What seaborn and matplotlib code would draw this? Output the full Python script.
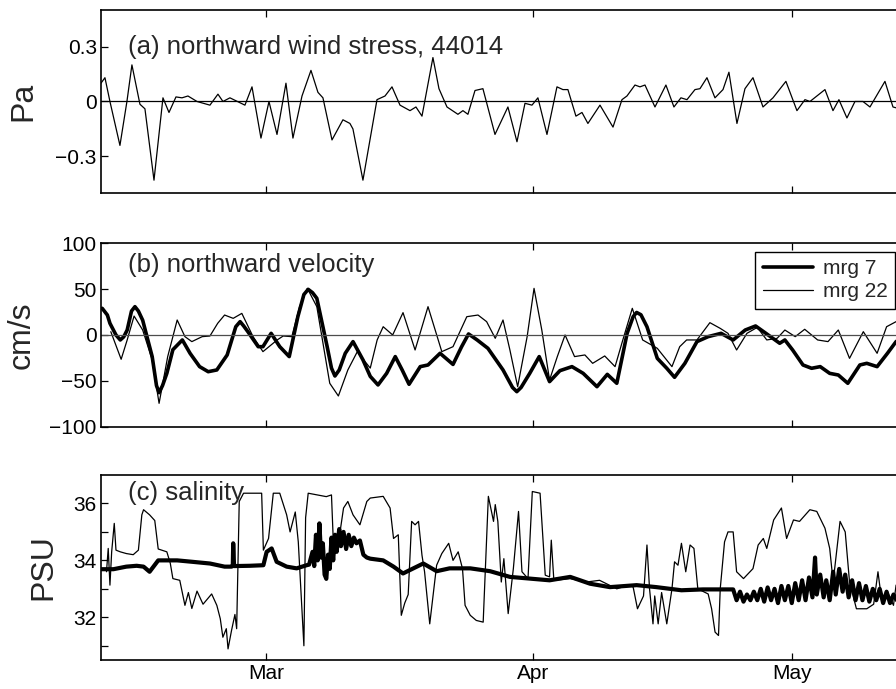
import matplotlib
matplotlib.use("Agg")
import matplotlib.pyplot as plt
import seaborn as sns
import pandas as pd

# time axis: days relative to 1 March
month_ticks = [0, 31, 61]
month_labels = ["Mar", "Apr", "May"]

# (a) northward wind stress, buoy 44014 (Pa)
wind_day = [-19.14, -18.68, -18.10, -16.94, -16.13, -15.55, -14.62, -14.04, -12.99, -11.95,
            -11.25, -10.44, -9.74, -9.05, -8.00, -6.50, -5.57, -4.99, -4.18, -2.44,
            -1.62, -0.58, 0.35, 1.28, 2.32, 3.13, 4.18, 5.22, 6.03, 6.61,
            7.66, 8.93, 9.74, 10.09, 11.25, 12.88, 13.81, 14.62, 15.55, 16.71,
            17.40, 18.10, 19.37, 20.07, 21.00, 22.27, 22.85, 23.43, 24.25, 25.17,
            26.57, 28.07, 29.12, 30.05, 30.86, 31.55, 32.60, 33.76, 34.45, 35.03,
            35.96, 36.66, 37.35, 38.75, 40.26, 41.30, 41.88, 42.81, 43.39, 43.97,
            45.13, 46.40, 47.33, 48.14, 48.84, 49.77, 50.35, 51.16, 52.09, 53.02,
            53.71, 54.64, 55.57, 56.50, 57.66, 58.82, 60.32, 61.60, 62.53, 63.11,
            64.85, 65.78, 66.47, 67.40, 68.33, 69.26, 70.07, 71.81, 72.74, 73.55]
wind_tau = [0.10, 0.13, 0.0, -0.24, 0.0, 0.20, -0.015, -0.04, -0.43, 0.02,
            -0.06, 0.025, 0.02, 0.03, 0.0, -0.02, 0.04, 0.0, 0.02, -0.02,
            0.08, -0.20, 0.0, -0.18, 0.10, -0.20, 0.03, 0.17, 0.05, 0.02,
            -0.21, -0.10, -0.12, -0.15, -0.43, 0.01, 0.03, 0.08, -0.02, -0.05,
            -0.03, -0.08, 0.24, 0.07, -0.03, -0.07, -0.05, -0.07, 0.06, 0.07,
            -0.18, -0.03, -0.22, -0.01, -0.02, 0.02, -0.18, 0.08, 0.065, 0.065,
            -0.08, -0.06, -0.12, -0.02, -0.14, 0.01, 0.03, 0.09, 0.08, 0.09,
            -0.03, 0.09, -0.03, 0.02, 0.01, 0.065, 0.07, 0.13, 0.02, 0.065,
            0.16, -0.12, 0.07, 0.13, -0.03, 0.02, 0.11, -0.05, 0.01, 0.0,
            0.065, -0.05, 0.01, -0.09, 0.0, 0.0, -0.03, 0.11, -0.03, -0.04]

# (b) northward velocity (cm/s)
v7_day = [-19.0, -18.4, -18.1, -17.4, -16.9, -16.5, -16.1, -15.6, -15.2, -14.8,
          -14.3, -13.2, -12.7, -12.4, -12.0, -11.5, -10.8, -9.7, -8.8, -7.7,
          -6.7, -5.7, -4.5, -3.5, -3.0, -2.6, -2.1, -0.9, -0.35, 0.6,
          1.6, 2.7, 3.7, 4.4, 4.9, 5.4, 5.9, 7.1, 7.6, 8.0,
          8.5, 9.2, 10.1, 11.25, 12.1, 13.0, 14.0, 15.0, 15.8, 16.6,
          17.9, 18.8, 20.2, 21.7, 22.7, 23.5, 24.5, 25.75, 27.5, 28.6,
          29.1, 29.6, 30.6, 31.7, 32.9, 34.1, 35.5, 36.8, 38.4, 39.6,
          40.7, 41.9, 42.6, 43.0, 43.5, 44.2, 45.4, 46.5, 47.4, 48.6,
          50.0, 51.3, 52.8, 54.2, 55.6, 56.8, 58.0, 59.6, 60.2, 61.1,
          62.3, 63.3, 64.3, 65.4, 66.4, 67.5, 68.9, 69.7, 70.9, 72.1,
          73.1, 74.0]
v7_cms = [29, 21.7, 12.7, 0, -5.4, -2, 5.4, 26, 30.8, 26,
          16, -23.5, -55, -62.7, -55, -41.7, -16, -5.4, -20, -34.4,
          -39.9, -38, -21.7, 9, 14.5, 10, 3.6, -12.7, -12.7, 1.8,
          -12.7, -23.5, 19.9, 44, 49.6, 46, 39.9, -12.7, -36, -44.6,
          -38, -19.9, -7.2, -27, -45, -54.3, -41.7, -23.5, -38, -53.6,
          -34.4, -32.6, -19.9, -32, -12.7, 1.1, -5.4, -14.5, -38, -57,
          -61.6, -57, -41.7, -23.5, -50.7, -38.8, -34.4, -41.7, -56.2, -42.8,
          -52.5, 1.8, 20, 24.5, 22, 9, -25.4, -36.2, -46, -30.8,
          -7.2, -1.8, 1.8, -5.4, 5.4, 9.8, 1.8, -9, -5.4, -16.3,
          -32.6, -36.2, -34.4, -41.7, -43.5, -52.5, -32.6, -30.8, -34.4, -19.9,
          -7.2, -2]

v22_day = [-18.0, -16.8, -16.1, -15.3, -14.3, -13.2, -12.4, -11.4, -10.3, -9.4,
           -8.6, -7.4, -6.5, -5.6, -4.8, -3.8, -2.8, -1.5, -0.35, 1.3,
           2.0, 3.0, 3.9, 4.8, 5.9, 7.4, 8.4, 9.5, 10.6, 11.5,
           12.1, 12.9, 13.6, 14.7, 15.9, 17.3, 18.8, 20.4, 21.7, 23.3,
           24.6, 25.6, 26.6, 27.5, 28.3, 29.2, 30.3, 31.1, 32.0, 32.9,
           33.8, 34.7, 35.8, 37.0, 37.9, 39.3, 40.5, 41.4, 42.5, 43.7,
           45.4, 47.1, 48.0, 48.8, 50.0, 51.5, 52.7, 53.6, 54.6, 55.8,
           57.0, 58.1, 59.3, 60.2, 61.4, 62.5, 64.0, 65.2, 66.4, 67.7,
           69.3, 70.9, 72.0, 73.1, 74.0]
v22_cms = [3.6, -26.4, -5.4, 20.6, 5.4, -27, -74.3, -23.5, 16.3, -1.8,
           -7.2, -1.8, -1.1, 12.7, 21.7, 18.1, 23.5, -1.8, -18.1, -5.4,
           -1.1, -1.8, 30.8, 50.7, 30.8, -52.5, -66.3, -38, -18.1, -29,
           -36, -5.4, 9, 0, 24.3, -16.3, 30.8, -18.1, -12.7, 19.9,
           21.7, 14.5, -3.6, 16.3, -16.3, -56.2, -1.8, 50.7, 5.4, -48.9,
           -23.5, 0, -23.5, -21.7, -30.8, -22.8, -34.4, -5.4, 29, -5.4,
           -14.5, -34.4, -12.7, -5.4, -5.4, 13.4, 7.2, 1.8, -16.3, 1.8,
           8.3, -5.4, -3.6, 5.4, -1.8, 6.2, -5.4, -7.2, 5.4, -25.4,
           3.6, -19.9, 9, 14.5, 15]

# (c) salinity (PSU), mrg 7 (thick) and mrg 22 (thin)
s7_day = [-19.2, -17.7, -16.2, -15.0, -14.2, -13.5, -12.5, -10.3, -8.55, -6.5,
          -4.8, -4.0, -3.85, -3.8, -3.7, -1.9, -0.3, 0.08, 0.66, 1.24,
          2.4, 3.56, 4.72, 5.0, 5.4, 5.6, 5.8, 6.0, 6.2, 6.4,
          6.6, 6.8, 7.0, 7.2, 7.4, 7.6, 7.8, 8.0, 8.2, 8.5,
          8.7, 9.0, 9.3, 9.6, 9.9, 10.2, 10.5, 10.9, 11.3, 11.7,
          12.1, 13.6, 14.8, 15.9, 17.1, 18.25, 19.8, 21.3, 23.7, 26.0,
          28.3, 30.6, 32.9, 35.3, 37.6, 39.9, 43.0, 45.3, 48.2, 50.7,
          54.2, 54.6, 55.0, 55.4, 55.8, 56.2, 56.6, 57.0, 57.4, 57.8,
          58.2, 58.6, 59.0, 59.4, 59.8, 60.2, 60.6, 61.0, 61.4, 61.8,
          62.2, 62.6, 63.0, 63.4, 63.7, 63.9, 64.3, 64.7, 65.0, 65.4,
          65.8, 66.1, 66.5, 66.9, 67.2, 67.6, 68.0, 68.4, 68.8, 69.2,
          69.6, 70.0, 70.4, 70.8, 71.2, 71.6, 72.0, 72.4, 72.8, 73.2, 74.0]
s7_psu = [33.69, 33.69, 33.78, 33.81, 33.78, 33.6, 34.0, 34.0, 33.95, 33.89,
          33.78, 33.78, 33.8, 34.6, 33.8, 33.81, 33.83, 34.3, 34.42, 33.95,
          33.78, 33.72, 33.83, 33.85, 34.3, 33.8, 34.9, 34.0, 35.3, 34.1,
          34.6, 33.5, 33.35, 34.2, 33.7, 34.8, 34.0, 34.9, 34.3, 35.1,
          34.5, 35.0, 34.4, 34.9, 34.5, 34.8, 34.6, 34.7, 34.2, 34.1,
          34.06, 34.0, 33.78, 33.54, 33.72, 33.89, 33.62, 33.72, 33.72, 33.62,
          33.42, 33.36, 33.3, 33.42, 33.18, 33.06, 33.13, 33.06, 32.95, 32.98,
          32.98, 32.6, 32.9, 32.55, 32.8, 32.6, 32.9, 32.6, 33.0, 32.55,
          33.05, 32.6, 33.0, 32.5, 33.1, 32.6, 33.1, 32.5, 33.2, 32.6,
          33.3, 32.6, 33.4, 32.7, 34.1, 32.8, 33.5, 32.7, 33.3, 32.6,
          33.6, 32.8, 33.7, 32.9, 33.5, 32.7, 33.3, 32.6, 33.2, 32.6,
          33.1, 32.55, 33.0, 32.6, 33.0, 32.5, 32.9, 32.5, 32.8, 32.6, 32.7]

s22_day = [-18.5, -18.3, -18.1, -17.9, -17.6, -17.4, -16.9, -16.2, -15.4, -14.8,
           -14.4, -14.2, -13.5, -12.9, -12.5, -11.5, -11.1, -10.8, -10.0, -9.4,
           -9.0, -8.6, -8.0, -7.3, -6.3, -5.7, -5.3, -5.0, -4.6, -4.4,
           -4.0, -3.6, -3.4, -3.1, -2.6, -0.5, -0.3, 0.3, 0.85, 1.6,
           2.4, 2.8, 3.4, 3.75, 4.1, 4.4, 4.6, 4.9, 7.0, 7.6,
           7.8, 8.4, 9.0, 9.5, 10.1, 10.9, 11.7, 12.1, 13.6, 14.4,
           14.8, 15.35, 15.7, 16.1, 16.5, 16.9, 17.3, 17.7, 18.1, 18.4,
           19.0, 19.8, 20.4, 21.2, 21.7, 22.3, 22.8, 23.1, 23.7, 24.4,
           25.2, 25.8, 26.4, 26.6, 26.9, 27.3, 27.6, 28.1, 28.7, 29.3,
           29.7, 30.4, 30.9, 31.8, 32.4, 32.9, 33.1, 33.4, 35.3, 37.2,
           38.7, 40.7, 42.2, 42.6, 43.1, 43.8, 44.2, 44.5, 44.9, 45.1,
           45.5, 45.9, 46.5, 47.1, 47.4, 47.8, 48.2, 48.7, 49.2, 49.65,
           50.1, 51.3, 51.7, 52.1, 52.5, 52.7, 53.2, 53.6, 54.2, 54.6,
           55.4, 56.5, 57.1, 57.7, 58.1, 58.9, 59.8, 60.4, 61.2, 61.9,
           63.1, 63.9, 64.85, 65.4, 65.8, 66.6, 67.2, 67.7, 68.5, 69.7,
           70.5, 71.0, 71.4, 72.2, 72.8, 73.1, 74.0]
s22_psu = [33.6, 34.42, 33.13, 34.3, 35.3, 34.36, 34.3, 34.24, 34.2, 34.36,
           35.6, 35.78, 35.6, 35.4, 34.4, 34.3, 33.9, 33.36, 33.3, 32.42,
           32.87, 32.31, 32.92, 32.46, 32.82, 32.42, 31.95, 31.3, 31.6, 30.89,
           31.53, 32.1, 31.6, 36.07, 36.36, 36.36, 34.36, 34.77, 36.36, 36.36,
           35.6, 35.0, 35.7, 34.65, 32.65, 31.0, 35.5, 36.36, 36.24, 36.3,
           34.77, 34.6, 35.84, 36.07, 35.6, 35.25, 36.07, 36.19, 36.25, 35.84,
           34.77, 34.9, 32.07, 32.5, 32.8, 35.37, 35.25, 35.37, 34.18, 33.6,
           31.77, 33.83, 34.24, 34.6, 34.0, 34.3, 33.71, 32.42, 32.07, 31.89,
           31.83, 36.25, 35.37, 35.96, 35.37, 33.24, 34.06, 32.13, 33.71, 35.72,
           33.6, 33.36, 36.42, 36.36, 33.48, 33.42, 34.71, 33.3, 33.36, 33.24,
           33.3, 33.0, 33.15, 33.06, 32.3, 32.75, 34.54, 33.0, 31.77, 32.75,
           31.77, 32.87, 31.77, 33.0, 33.95, 33.83, 34.6, 33.6, 34.54, 34.42,
           33.0, 32.82, 32.3, 31.48, 31.36, 33.0, 34.65, 35.0, 35.0, 33.6,
           33.36, 33.71, 34.54, 34.77, 34.42, 35.42, 35.84, 34.77, 35.42, 35.37,
           35.78, 35.72, 35.13, 34.42, 33.24, 35.37, 35.0, 33.24, 32.3, 32.3,
           32.46, 33.6, 32.66, 32.82, 32.42, 33.13, 33.2]

sns.set_style("ticks")
plt.rcParams["font.family"] = ["Liberation Sans", "DejaVu Sans"]

fig = plt.figure(figsize=(8.96, 6.89), dpi=100)
ax1 = fig.add_axes([0.1127, 0.7199, 0.897, 0.2656])
ax2 = fig.add_axes([0.1127, 0.3803, 0.897, 0.2670])
ax3 = fig.add_axes([0.1127, 0.0421, 0.897, 0.2685])

thin = 0.9
thick = 2.6
tick_fs = 15
panel_fs = 18.5
ylab_fs = 23

# panel a
sns.lineplot(x=wind_day, y=wind_tau, ax=ax1, color="k", linewidth=thin, estimator=None, sort=False)
ax1.axhline(0, color="k", linewidth=0.9)
ax1.set_ylim(-0.5, 0.5)
ax1.set_yticks([-0.3, 0, 0.3])
ax1.set_yticklabels(["\u22120.3", "0", "0.3"])
ax1.set_ylabel("Pa", fontsize=ylab_fs)
ax1.text(0.034, 0.80, "(a) northward wind stress, 44014", transform=ax1.transAxes,
         fontsize=panel_fs, va="center", ha="left")

# panel b
sns.lineplot(x=v7_day, y=v7_cms, ax=ax2, color="k", linewidth=thick, estimator=None,
             sort=False, label="mrg 7")
sns.lineplot(x=v22_day, y=v22_cms, ax=ax2, color="k", linewidth=thin, estimator=None,
             sort=False, label="mrg 22")
ax2.axhline(0, color="0.3", linewidth=0.9)
ax2.set_ylim(-100, 100)
ax2.set_yticks([-100, -50, 0, 50, 100])
ax2.set_ylabel("cm/s", fontsize=ylab_fs)
ax2.text(0.034, 0.88, "(b) northward velocity", transform=ax2.transAxes,
         fontsize=panel_fs, va="center", ha="left")
leg = ax2.legend(loc="upper right", bbox_to_anchor=(895 / 896, 1 - 252 / 689),
                 bbox_transform=fig.transFigure, borderaxespad=0, fontsize=15,
                 fancybox=False, framealpha=1, edgecolor="k", handlelength=2.4,
                 handletextpad=0.5, labelspacing=0.2, borderpad=0.35)
leg.get_frame().set_linewidth(1.0)

# panel c
sns.lineplot(x=s22_day, y=s22_psu, ax=ax3, color="k", linewidth=thin, estimator=None, sort=False)
sns.lineplot(x=s7_day, y=s7_psu, ax=ax3, color="k", linewidth=3.0, estimator=None, sort=False)
ax3.set_ylim(30.5, 37)
ax3.set_yticks([31, 32, 33, 34, 35, 36])
ax3.set_yticklabels(["", "32", "", "34", "", "36"])
ax3.set_ylabel("PSU", fontsize=ylab_fs)
ax3.text(0.034, 0.90, "(c) salinity", transform=ax3.transAxes,
         fontsize=panel_fs, va="center", ha="left")

for ax in (ax1, ax2, ax3):
    ax.set_xlim(-19.14, 74.1)
    ax.set_xticks(month_ticks)
    ax.set_xticklabels(month_labels if ax is ax3 else [])
    ax.tick_params(direction="in", length=5, width=0.9, top=True, right=True,
                   labelsize=tick_fs, colors="k", pad=3)
    for s in ax.spines.values():
        s.set_linewidth(1.2)
        s.set_color("k")
    ax.set_xlabel("")

ax1.yaxis.set_label_coords(-0.078, 0.5)
ax2.yaxis.set_label_coords(-0.080, 0.5)
ax3.yaxis.set_label_coords(-0.053, 0.5)

fig.savefig("out.png", dpi=100)
